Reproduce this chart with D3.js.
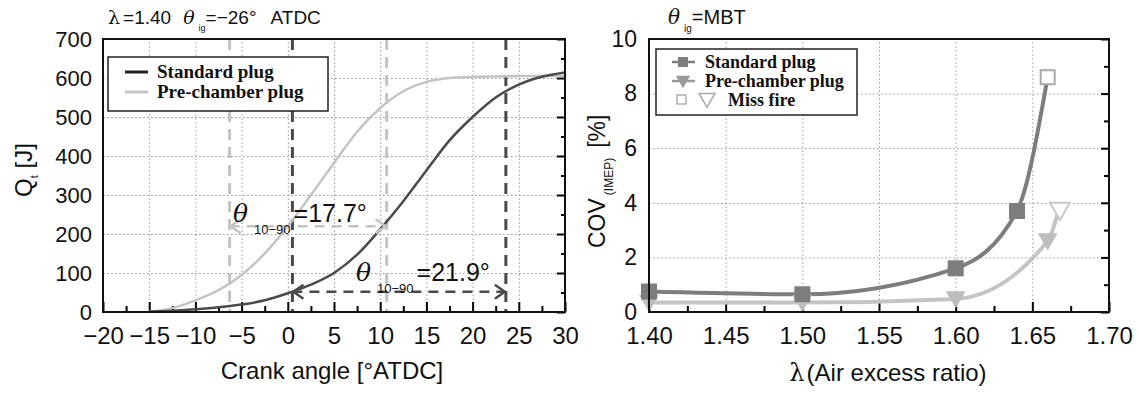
<!DOCTYPE html>
<html>
<head>
<meta charset="utf-8">
<script src="https://cdn.jsdelivr.net/npm/d3@7"></script>
<style>
body { margin: 0; background: #fff; }
text { font-family: "Liberation Sans", Arial, sans-serif; fill: #111; }
.leg { font-family: "Liberation Serif", "Times New Roman", serif; font-weight: bold; }
.grid line { stroke: #999; stroke-width: 1; stroke-dasharray: 1.5,2.5; }
.grid path { display: none; }
</style>
</head>
<body>
<div id="chart"></div>
<script>
// DATOS - grafico izquierdo (calor liberado)
const crankAngle = [-15, -12.5, -10, -7.5, -5, -2.5, 0, 2.5, 5, 7.5, 10, 12.5, 15, 17.5, 20, 22.5, 25, 27.5, 30]
const qStandard = [1, 3, 7, 12, 19, 30, 48, 70, 100, 147, 212, 284, 363, 440, 500, 550, 583, 603, 614]
const qPreChamber = [1, 10, 30, 56, 95, 150, 220, 300, 382, 462, 523, 566, 590, 600, 603, 604, 605, 605, 605]
const xTicksLeft = [-20, -15, -10, -5, 0, 5, 10, 15, 20, 25, 30]
const yTicksLeft = [0, 100, 200, 300, 400, 500, 600, 700]
// 10% y 90% de cada curva
const marksStandard = [0.5, 23.6]
const marksPre = [-6.3, 10.7]
const arrowLevels = [52, 220]   // [J] altura de las flechas (standard, pre-chamber)

// DATOS - grafico derecho (COV)
const lambdaStd = [1.40, 1.50, 1.60, 1.64]
const covStd = [0.75, 0.65, 1.6, 3.7]
const lambdaPre = [1.40, 1.50, 1.60, 1.66]
const covPre = [0.35, 0.35, 0.48, 2.6]
const missStd = [1.66, 8.6]
const missPre = [1.668, 3.9]
const xTicksRight = [1.40, 1.45, 1.50, 1.55, 1.60, 1.65, 1.70]
const yTicksRight = [0, 2, 4, 6, 8, 10]

const width = 1140
const height = 394
const dark = "#4a4a4a"
const light = "#c4c4c4"
const stdGrey = "#7d7d7d"

const svg = d3.select("#chart").append("svg").attr("width", width).attr("height", height)

// ============ GRAFICO IZQUIERDO ============
const L = {left: 103, right: 565, top: 39, bottom: 312}
const x1 = d3.scaleLinear().domain([-20, 30]).range([L.left, L.right])
const y1 = d3.scaleLinear().domain([0, 700]).range([L.bottom, L.top])
const g1 = svg.append("g")

// rejilla
g1.append("g").attr("class", "grid").attr("transform", `translate(0, ${L.bottom})`)
    .call(d3.axisBottom(x1).tickValues(xTicksLeft.slice(1, -1)).tickSize(-(L.bottom - L.top)).tickFormat(""))
g1.append("g").attr("class", "grid").attr("transform", `translate(${L.left}, 0)`)
    .call(d3.axisLeft(y1).tickValues(yTicksLeft.slice(1, -1)).tickSize(-(L.right - L.left)).tickFormat(""))

// ejes
const xAxis1 = g1.append("g").attr("transform", `translate(0, ${L.bottom})`)
    .call(d3.axisBottom(x1).tickValues(xTicksLeft).tickSize(-10).tickPadding(15).tickFormat(d => d < 0 ? "\u2212" + Math.abs(d) : d))
xAxis1.select(".domain").remove()
xAxis1.selectAll("text").style("font-size", "24px").attr("dy", "0.72em")
xAxis1.selectAll("line").attr("stroke-width", 2)
g1.append("g").attr("transform", `translate(0, ${L.bottom})`)
    .call(d3.axisBottom(x1).tickValues(d3.range(-17.5, 30, 5)).tickSize(-6).tickFormat(""))
    .call(g => g.select(".domain").remove())
    .selectAll("line").attr("stroke-width", 2)

const yAxis1 = g1.append("g").attr("transform", `translate(${L.left}, 0)`)
    .call(d3.axisLeft(y1).tickValues(yTicksLeft).tickSize(0).tickPadding(11))
yAxis1.select(".domain").remove()
yAxis1.selectAll("text").style("font-size", "22px")
g1.append("g").attr("transform", `translate(${L.right}, 0)`)
    .call(d3.axisRight(y1).tickValues(yTicksLeft).tickSize(-8).tickFormat(""))
    .call(g => g.select(".domain").remove())
    .selectAll("line").attr("stroke-width", 2)
g1.append("g").attr("transform", `translate(${L.right}, 0)`)
    .call(d3.axisRight(y1).tickValues(d3.range(50, 700, 100)).tickSize(-4).tickFormat(""))
    .call(g => g.select(".domain").remove())
    .selectAll("line").attr("stroke-width", 2)

// lineas verticales discontinuas
const vMarks = [
    ...marksStandard.map(v => ({v: v, c: dark})),
    ...marksPre.map(v => ({v: v, c: light}))
]
g1.selectAll(".vmark").data(vMarks).enter().append("line")
    .attr("x1", d => x1(d.v)).attr("x2", d => x1(d.v))
    .attr("y1", y1(700)).attr("y2", y1(0))
    .attr("stroke", d => d.c).attr("stroke-width", 3).attr("stroke-dasharray", "11,7")

// curvas
const line1 = d3.line().x(d => x1(d[0])).y(d => y1(d[1])).curve(d3.curveMonotoneX)
g1.append("path").datum(crankAngle.map((a, i) => [a, qPreChamber[i]]))
    .attr("d", line1).attr("fill", "none").attr("stroke", light).attr("stroke-width", 2.5)
g1.append("path").datum(crankAngle.map((a, i) => [a, qStandard[i]]))
    .attr("d", line1).attr("fill", "none").attr("stroke", dark).attr("stroke-width", 2.5)

// flechas horizontales
function arrow(g, xa, xb, yy, color) {
    g.append("line").attr("x1", xa).attr("x2", xb).attr("y1", yy).attr("y2", yy)
        .attr("stroke", color).attr("stroke-width", 2.5).attr("stroke-dasharray", "10,7")
    g.append("path").attr("d", `M${xa + 11},${yy - 7}L${xa + 1},${yy}L${xa + 11},${yy + 7}`)
        .attr("fill", "none").attr("stroke", color).attr("stroke-width", 2.5)
    g.append("path").attr("d", `M${xb - 11},${yy - 7}L${xb - 1},${yy}L${xb - 11},${yy + 7}`)
        .attr("fill", "none").attr("stroke", color).attr("stroke-width", 2.5)
}
arrow(g1, x1(marksPre[0]), x1(marksPre[1]), y1(arrowLevels[1]), light)
arrow(g1, x1(marksStandard[0]), x1(marksStandard[1]), y1(arrowLevels[0]), dark)

// textos theta
function thetaLabel(g, xx, yy, val) {
    const t = g.append("text").attr("x", xx).attr("y", yy).style("font-size", "25px")
    t.append("tspan").text("\u03b8").style("font-style", "italic").style("font-family", "DejaVu Serif, serif")
    t.append("tspan").text("10\u221290").style("font-size", "13px").attr("dx", 6).attr("dy", 12)
    t.append("tspan").text("=" + val + "\u00b0").attr("dx", 3).attr("dy", -12)
}
thetaLabel(g1, 233, 222, "17.7")
thetaLabel(g1, 356, 281, "21.9")

// titulo
const t1 = g1.append("text").attr("x", 108).attr("y", 24).style("font-size", "19px")
t1.append("tspan").text("\u03bb").style("font-family", "DejaVu Serif, serif")
t1.append("tspan").text("=1.40").attr("dx", 3)
t1.append("tspan").text("\u03b8").style("font-style", "italic").style("font-family", "DejaVu Serif, serif").attr("dx", 12)
t1.append("tspan").text("ig").style("font-size", "9px").attr("dx", 4).attr("dy", 7)
t1.append("tspan").text("=\u221226\u00b0").attr("dy", -7)
t1.append("tspan").text("ATDC").attr("dx", 14)

// etiquetas de ejes
g1.append("text").attr("x", 332).attr("y", 379).attr("text-anchor", "middle").style("font-size", "24px")
    .text("Crank angle [\u00b0ATDC]")
const yl1 = g1.append("text").attr("transform", `translate(32, 170) rotate(-90)`).attr("text-anchor", "middle").style("font-size", "24px")
yl1.append("tspan").text("Q")
yl1.append("tspan").text("t").style("font-size", "11px").attr("dy", 6)
yl1.append("tspan").text(" [J]").attr("dy", -6)

// leyenda
g1.append("rect").attr("x", 108).attr("y", 57).attr("width", 220).attr("height", 54)
    .attr("fill", "#fff").attr("stroke", "#222").attr("stroke-width", 1.5)
const leg1 = [{name: "Standard plug", c: "#222"}, {name: "Pre-chamber plug", c: light}]
leg1.forEach((d, i) => {
    const yy = 72 + i * 20
    g1.append("line").attr("x1", 125).attr("x2", 148).attr("y1", yy).attr("y2", yy).attr("stroke", d.c).attr("stroke-width", 3)
    g1.append("text").attr("class", "leg").attr("x", 157).attr("y", yy + 6).style("font-size", "19px").text(d.name)
})

// marco
g1.append("rect").attr("x", L.left).attr("y", L.top).attr("width", L.right - L.left).attr("height", L.bottom - L.top)
    .attr("fill", "none").attr("stroke", "#111").attr("stroke-width", 2)

// ============ GRAFICO DERECHO ============
const R = {left: 649, right: 1109, top: 39, bottom: 312}
const x2 = d3.scaleLinear().domain([1.40, 1.70]).range([R.left, R.right])
const y2 = d3.scaleLinear().domain([0, 10]).range([R.bottom, R.top])
const g2 = svg.append("g")

g2.append("g").attr("class", "grid").attr("transform", `translate(0, ${R.bottom})`)
    .call(d3.axisBottom(x2).tickValues(xTicksRight.slice(1, -1)).tickSize(-(R.bottom - R.top)).tickFormat(""))
g2.append("g").attr("class", "grid").attr("transform", `translate(${R.left}, 0)`)
    .call(d3.axisLeft(y2).tickValues(yTicksRight.slice(1, -1)).tickSize(-(R.right - R.left)).tickFormat(""))

const xAxis2 = g2.append("g").attr("transform", `translate(0, ${R.bottom})`)
    .call(d3.axisBottom(x2).tickValues(xTicksRight).tickSize(-10).tickPadding(15).tickFormat(d3.format(".2f")))
xAxis2.select(".domain").remove()
xAxis2.selectAll("text").style("font-size", "24px").attr("dy", "0.72em")
xAxis2.selectAll("line").attr("stroke-width", 2)
g2.append("g").attr("transform", `translate(0, ${R.bottom})`)
    .call(d3.axisBottom(x2).tickValues(d3.range(1.425, 1.70, 0.05)).tickSize(-6).tickFormat(""))
    .call(g => g.select(".domain").remove())
    .selectAll("line").attr("stroke-width", 2)

const yAxis2 = g2.append("g").attr("transform", `translate(${R.left}, 0)`)
    .call(d3.axisLeft(y2).tickValues(yTicksRight).tickSize(0).tickPadding(12))
yAxis2.select(".domain").remove()
yAxis2.selectAll("text").style("font-size", "23px")
g2.append("g").attr("transform", `translate(${R.right}, 0)`)
    .call(d3.axisRight(y2).tickValues(yTicksRight).tickSize(-8).tickFormat(""))
    .call(g => g.select(".domain").remove())
    .selectAll("line").attr("stroke-width", 2)
g2.append("g").attr("transform", `translate(${R.right}, 0)`)
    .call(d3.axisRight(y2).tickValues(d3.range(1, 10, 2)).tickSize(-5).tickFormat(""))
    .call(g => g.select(".domain").remove())
    .selectAll("line").attr("stroke-width", 2)

// curvas
const line2 = d3.line().x(d => x2(d[0])).y(d => y2(d[1])).curve(d3.curveMonotoneX)
const preData = lambdaPre.map((l, i) => [l, covPre[i]])
const stdData = lambdaStd.map((l, i) => [l, covStd[i]])
g2.append("path").datum([...preData, missPre])
    .attr("d", line2).attr("fill", "none").attr("stroke", light).attr("stroke-width", 4)
g2.append("path").datum([...stdData, missStd])
    .attr("d", line2).attr("fill", "none").attr("stroke", stdGrey).attr("stroke-width", 4)

const tri = d3.symbol().type(d3.symbolTriangle).size(170)
g2.selectAll(".tri").data(preData).enter().append("path")
    .attr("d", tri).attr("transform", d => `translate(${x2(d[0])}, ${y2(d[1]) - 2}) rotate(180)`)
    .attr("fill", "#bdbdbd")
g2.selectAll(".sq").data(stdData).enter().append("rect")
    .attr("x", d => x2(d[0]) - 8).attr("y", d => y2(d[1]) - 8).attr("width", 16).attr("height", 16)
    .attr("fill", stdGrey)
// miss fire
g2.append("rect").attr("x", x2(missStd[0]) - 7).attr("y", y2(missStd[1]) - 7).attr("width", 14).attr("height", 14)
    .attr("fill", "#fff").attr("stroke", "#aaa").attr("stroke-width", 2)
g2.append("path").attr("d", tri).attr("transform", `translate(${x2(missPre[0])}, ${y2(missPre[1]) + 3}) rotate(180)`)
    .attr("fill", "#fff").attr("stroke", "#c8c8c8").attr("stroke-width", 2)

// titulo
const t2 = g2.append("text").attr("x", 668).attr("y", 24).style("font-size", "20px")
t2.append("tspan").text("\u03b8").style("font-style", "italic").style("font-family", "DejaVu Serif, serif")
t2.append("tspan").text("ig").style("font-size", "10px").attr("dx", 4).attr("dy", 8)
t2.append("tspan").text("=MBT").attr("dy", -8)

// etiquetas de ejes
const xl2 = g2.append("text").attr("x", 888).attr("y", 381).attr("text-anchor", "middle").style("font-size", "24px")
xl2.append("tspan").text("\u03bb").style("font-family", "DejaVu Serif, serif")
xl2.append("tspan").text("(Air excess ratio)").attr("dx", 2)
const yl2 = g2.append("text").attr("transform", `translate(605, 248) rotate(-90)`).style("font-size", "23px")
yl2.append("tspan").text("COV")
yl2.append("tspan").text("(IMEP)").style("font-size", "12px").attr("dx", 3).attr("dy", 8)
yl2.append("tspan").text("[%]").attr("dx", 10).attr("dy", -8)

// leyenda
g2.append("rect").attr("x", 656).attr("y", 49).attr("width", 201).attr("height", 66)
    .attr("fill", "#fff").attr("stroke", "#222").attr("stroke-width", 1.5)
const leg2 = ["Standard plug", "Pre-chamber plug"]
leg2.forEach((name, i) => {
    const yy = 62 + i * 19
    const c = i == 0 ? stdGrey : "#999"
    g2.append("line").attr("x1", 672).attr("x2", 695).attr("y1", yy).attr("y2", yy).attr("stroke", c).attr("stroke-width", 2.5)
    if (i == 0) {
        g2.append("rect").attr("x", 678).attr("y", yy - 5).attr("width", 10).attr("height", 10).attr("fill", c)
    } else {
        g2.append("path").attr("d", d3.symbol().type(d3.symbolTriangle).size(90))
            .attr("transform", `translate(683, ${yy - 1}) rotate(180)`).attr("fill", c)
    }
    g2.append("text").attr("class", "leg").attr("x", 705).attr("y", yy + 6).style("font-size", "18px").text(name)
})
g2.append("rect").attr("x", 677).attr("y", 95).attr("width", 9).attr("height", 9)
    .attr("fill", "none").attr("stroke", "#999").attr("stroke-width", 1.2)
g2.append("path").attr("d", d3.symbol().type(d3.symbolTriangle).size(110))
    .attr("transform", `translate(707, 98) rotate(180)`).attr("fill", "none").attr("stroke", "#aaa").attr("stroke-width", 1.5)
g2.append("text").attr("class", "leg").attr("x", 728).attr("y", 106).style("font-size", "18px").text("Miss fire")

g2.append("rect").attr("x", R.left).attr("y", R.top).attr("width", R.right - R.left).attr("height", R.bottom - R.top)
    .attr("fill", "none").attr("stroke", "#111").attr("stroke-width", 2)
</script>
</body>
</html>
